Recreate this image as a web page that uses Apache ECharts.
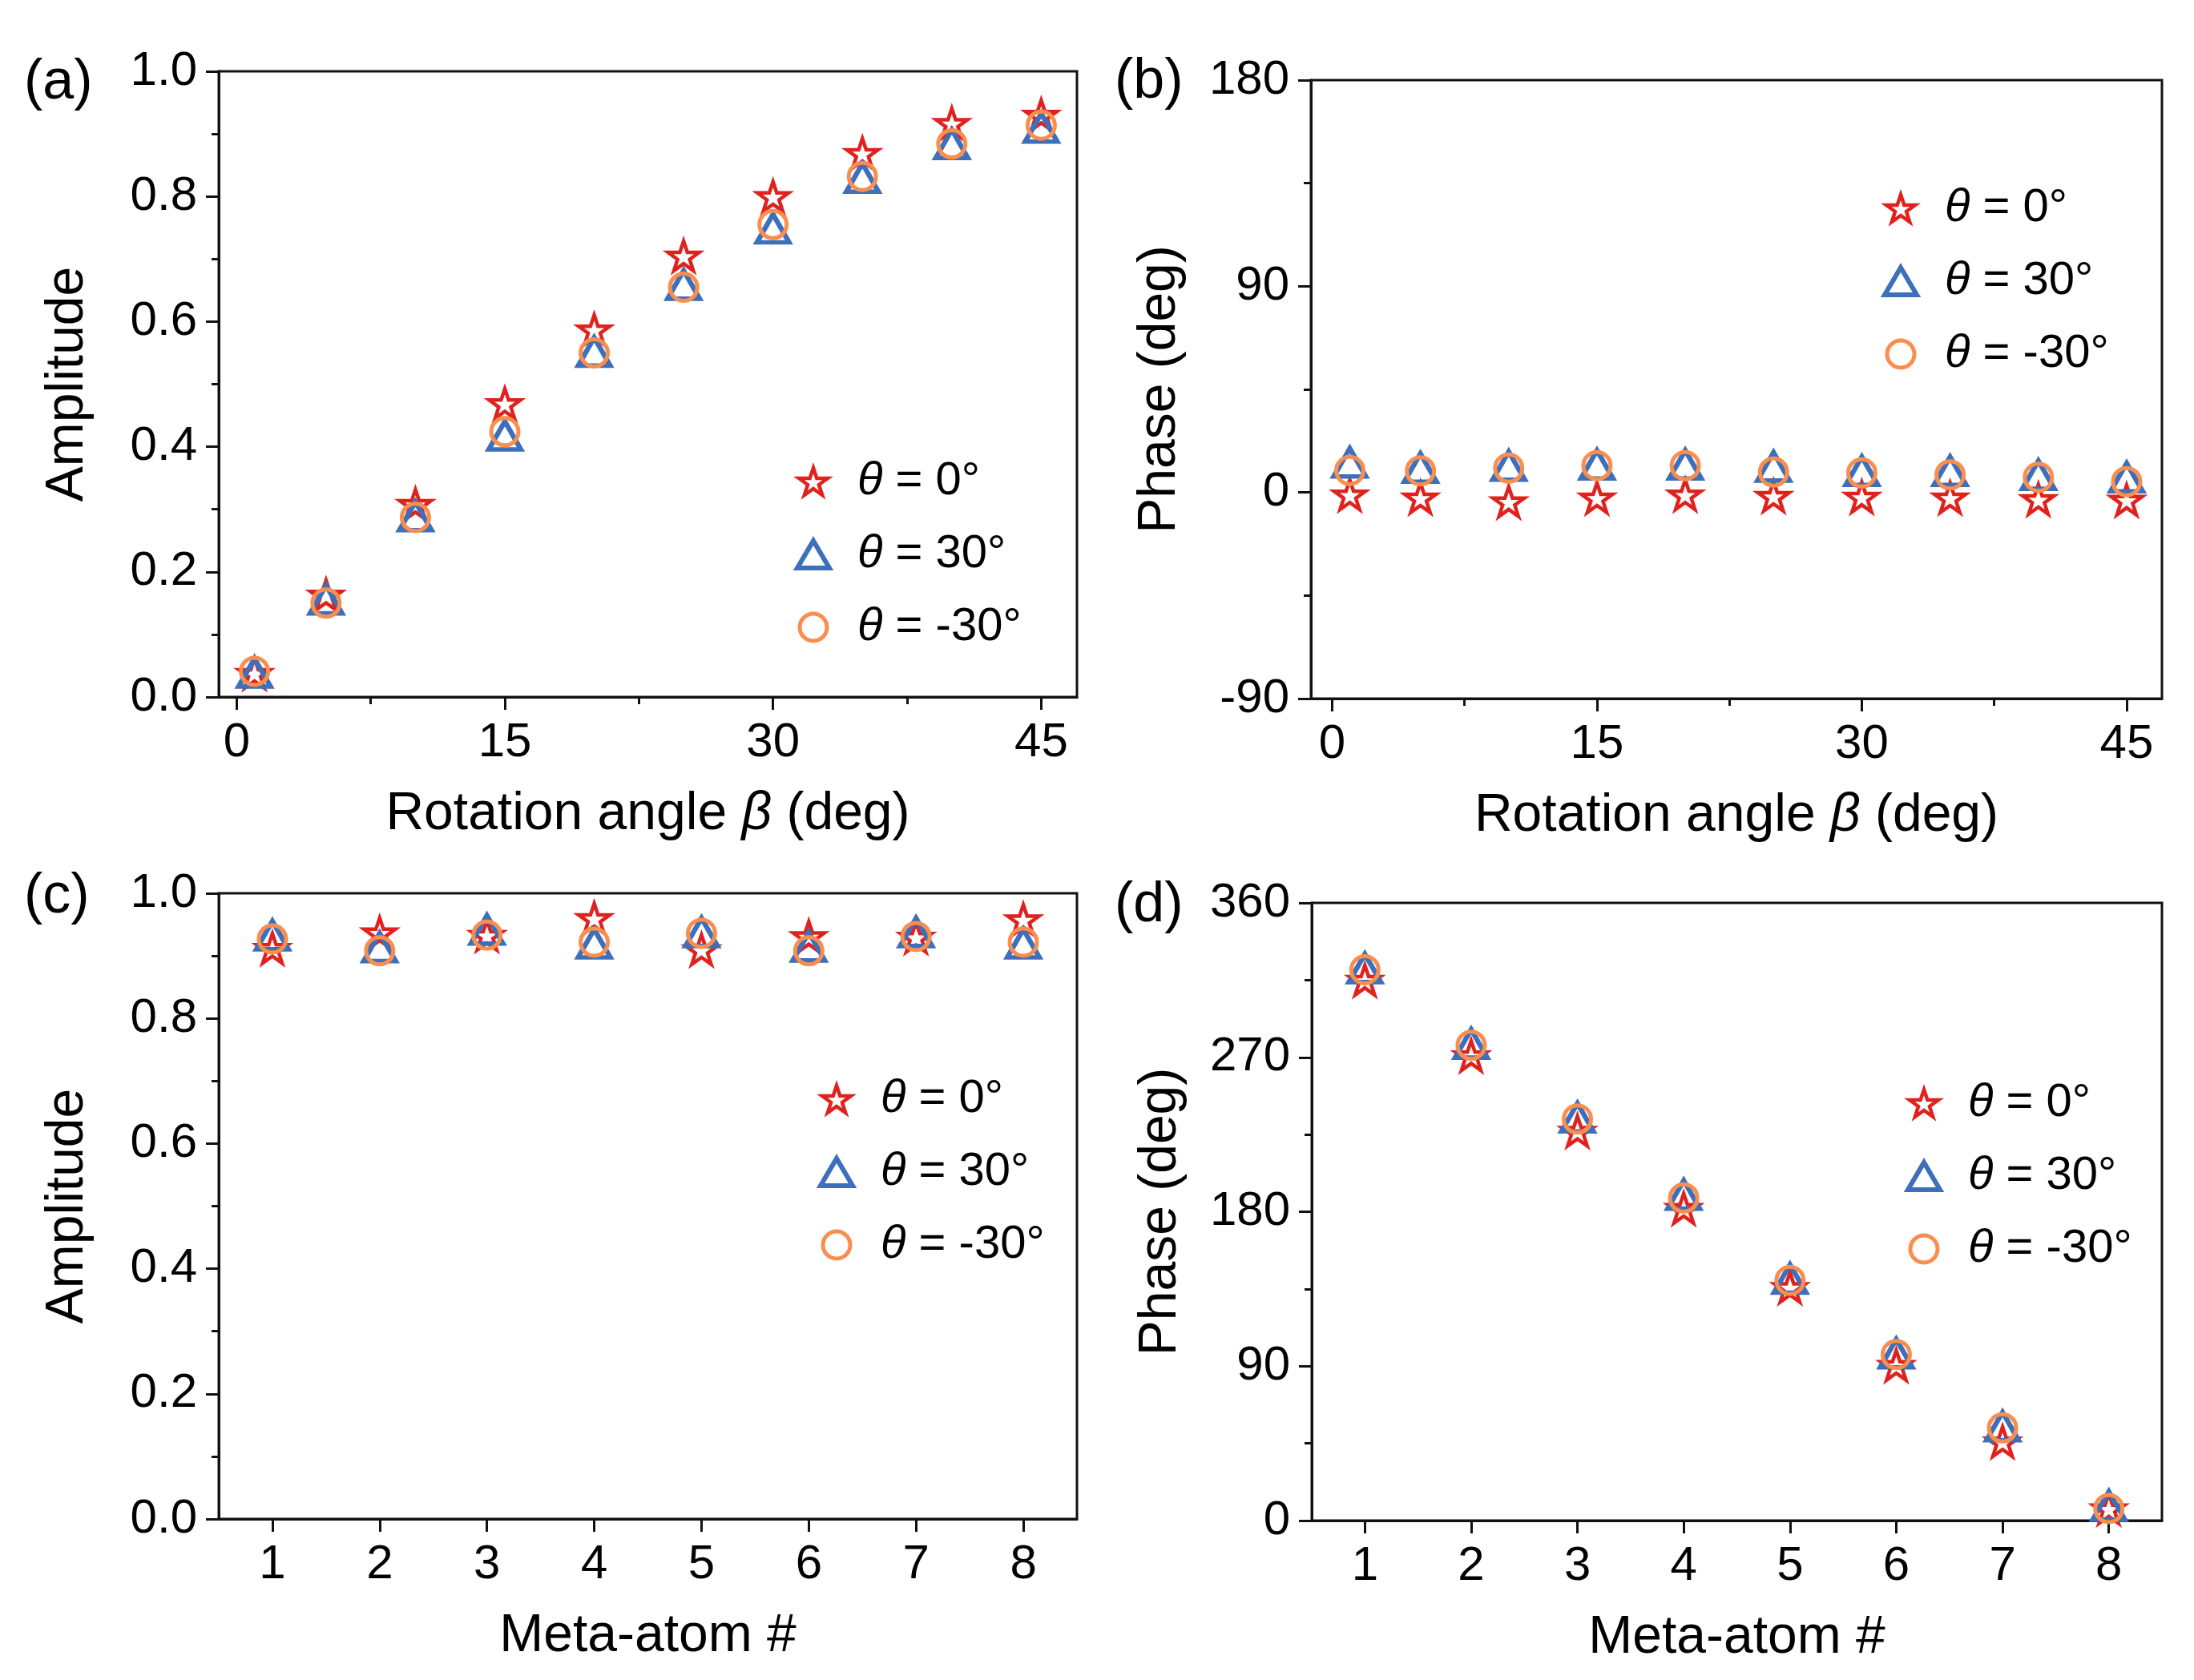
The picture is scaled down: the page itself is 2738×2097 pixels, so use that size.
<!DOCTYPE html>
<html>
<head>
<meta charset="utf-8">
<title>Amplitude and phase vs rotation angle</title>
<script src="https://cdn.jsdelivr.net/npm/echarts@6.0.0/dist/echarts.min.js"></script>
<style>
  html, body { margin: 0; padding: 0; background: #fff; }
  #main { width: 2738px; height: 2097px; }
</style>
</head>
<body>
<div id="main"></div>
<script>
// data
var betaAngles = [1, 5, 10, 15, 20, 25, 30, 35, 40, 45];
var betaTicks = [0, 15, 30, 45];
var betaMinorTicks = [7.5, 22.5, 37.5];
var ampA_0 = [0.038, 0.163, 0.308, 0.469, 0.587, 0.705, 0.800, 0.869, 0.917, 0.930];
var ampA_30 = [0.039, 0.156, 0.289, 0.418, 0.552, 0.659, 0.749, 0.830, 0.884, 0.910];
var ampA_m30 = [0.041, 0.150, 0.287, 0.424, 0.550, 0.655, 0.755, 0.832, 0.884, 0.914];

var phaseB_0 = [-1, -2.3, -4, -2.3, -1, -1.6, -2, -2.3, -3, -3.3];
var phaseB_30 = [13.1, 10.8, 11.7, 12.2, 12.2, 11.3, 9.4, 9.4, 7.7, 6.6];
var phaseB_m30 = [9.6, 9.4, 10.6, 11.7, 11.7, 8.9, 8.5, 7.7, 6.6, 4.7];

var metaAtoms = [1, 2, 3, 4, 5, 6, 7, 8];
var ampC_0 = [0.912, 0.937, 0.933, 0.960, 0.910, 0.931, 0.930, 0.958];
var ampC_30 = [0.933, 0.914, 0.942, 0.920, 0.938, 0.915, 0.938, 0.920];
var ampC_m30 = [0.927, 0.908, 0.933, 0.922, 0.936, 0.908, 0.931, 0.922];

var phaseD_0 = [315, 271, 227, 182, 136, 90.5, 46, 7];
var phaseD_30 = [322, 278, 235, 190, 141, 97.5, 55, 8.7];
var phaseD_m30 = [321, 277, 234, 188, 140, 96.8, 54, 7];

var seriesNames = ['θ = 0°', 'θ = 30°', 'θ = -30°'];

window.onload = function () {
    var myChart = echarts.init(document.getElementById('main'));

    var FONT = '"Liberation Sans", Arial, sans-serif';
    var RED = '#e0221e', BLUE = '#3d6fbb', ORANGE = '#f98e4e';
    var starPath = 'path://M50,0 L61.8,35.4 L99,35.4 L69,57.3 L80.4,92.7 L50,70.8 L19.6,92.7 L31,57.3 L1,35.4 L38.2,35.4 Z';
    var symbols = [starPath, 'triangle', 'circle'];
    var symbolSizes = [39, [40, 35], 34];
    var borderWidths = [4.5, 6, 5];
    var colors = [RED, BLUE, ORANGE];

    // 四个坐标区
    var grids = [
        { left: 273, top: 89, width: 1071, height: 781 },
        { left: 1636, top: 100, width: 1062, height: 772 },
        { left: 273, top: 1115, width: 1071, height: 781 },
        { left: 1637, top: 1127, width: 1061, height: 771 }
    ];
    grids.forEach(function (g) {
        g.show = true;
        g.borderColor = '#111';
        g.borderWidth = 3;
        g.backgroundColor = 'transparent';
    });

    var lineStyle = { color: '#111', width: 3 };

    function xAxisMain(gi, min, max, ticks, name) {
        return {
            type: 'value', gridIndex: gi, min: min, max: max,
            position: 'bottom',
            splitLine: { show: false },
            axisLine: { show: true, onZero: false, lineStyle: lineStyle },
            axisTick: { show: true, inside: false, length: 16, customValues: ticks, lineStyle: lineStyle },
            axisLabel: { show: true, customValues: ticks, margin: 27, fontSize: 60, color: '#000', fontFamily: FONT },
            name: name, nameLocation: 'middle', nameGap: 114,
            nameTextStyle: {
                fontSize: 66, color: '#000', fontFamily: FONT,
                rich: { i: { fontSize: 66, fontStyle: 'italic', color: '#000', fontFamily: FONT } }
            }
        };
    }
    // 次刻度
    function xAxisMinor(gi, min, max, ticks) {
        return {
            type: 'value', gridIndex: gi, min: min, max: max,
            position: 'bottom',
            splitLine: { show: false },
            axisLine: { show: false, onZero: false },
            axisTick: { show: true, inside: false, length: 9, customValues: ticks, lineStyle: lineStyle },
            axisLabel: { show: false }
        };
    }
    function yAxisMain(gi, min, max, interval, name, fmt) {
        return {
            type: 'value', gridIndex: gi, min: min, max: max, interval: interval,
            splitLine: { show: false },
            axisLine: { show: true, onZero: false, lineStyle: lineStyle },
            axisTick: { show: true, inside: false, length: 16, lineStyle: lineStyle },
            minorTick: { show: true, splitNumber: 2, length: 9, lineStyle: lineStyle },
            axisLabel: { margin: 27, fontSize: 60, color: '#000', fontFamily: FONT, formatter: fmt },
            name: name, nameLocation: 'middle', nameGap: 155,
            nameTextStyle: { fontSize: 66, color: '#000', fontFamily: FONT }
        };
    }
    var fmt1 = function (v) { return v.toFixed(1); };
    var fmt0 = function (v) { return String(v); };

    var xAxes = [
        xAxisMain(0, -1, 47, betaTicks, 'Rotation angle {i|β} (deg)'),
        xAxisMain(1, -1.2, 47, betaTicks, 'Rotation angle {i|β} (deg)'),
        xAxisMain(2, 0.5, 8.5, metaAtoms, 'Meta-atom #'),
        xAxisMain(3, 0.5, 8.5, metaAtoms, 'Meta-atom #'),
        xAxisMinor(0, -1, 47, betaMinorTicks),
        xAxisMinor(1, -1.2, 47, betaMinorTicks)
    ];
    var yAxes = [
        yAxisMain(0, 0, 1, 0.2, 'Amplitude', fmt1),
        yAxisMain(1, -90, 180, 90, 'Phase (deg)', fmt0),
        yAxisMain(2, 0, 1, 0.2, 'Amplitude', fmt1),
        yAxisMain(3, 0, 360, 90, 'Phase (deg)', fmt0)
    ];

    // 数据系列
    var panels = [
        { xs: betaAngles, ys: [ampA_0, ampA_30, ampA_m30] },
        { xs: betaAngles, ys: [phaseB_0, phaseB_30, phaseB_m30] },
        { xs: metaAtoms, ys: [ampC_0, ampC_30, ampC_m30] },
        { xs: metaAtoms, ys: [phaseD_0, phaseD_30, phaseD_m30] }
    ];
    var series = [];
    panels.forEach(function (p, pi) {
        p.ys.forEach(function (ys, si) {
            series.push({
                name: seriesNames[si],
                type: 'scatter',
                xAxisIndex: pi, yAxisIndex: pi,
                symbol: symbols[si],
                symbolSize: symbolSizes[si],
                symbolKeepAspect: true,
                itemStyle: { color: 'transparent', borderColor: colors[si], borderWidth: borderWidths[si], opacity: 1 },
                emphasis: { disabled: true },
                data: p.xs.map(function (x, i) { return [x, ys[i]]; })
            });
        });
    });

    // 图例
    var legendPos = [
        { left: 987, top: 567 },
        { left: 2344, top: 226 },
        { left: 1016, top: 1338 },
        { left: 2373, top: 1343 }
    ];
    var legends = legendPos.map(function (pos) {
        return {
            left: pos.left, top: pos.top, orient: 'vertical',
            itemWidth: 40, itemHeight: 34, itemGap: 33,
            selectedMode: false,
            data: seriesNames.map(function (n, si) {
                return {
                    name: n, icon: symbols[si],
                    itemStyle: { color: 'transparent', borderColor: colors[si], borderWidth: borderWidths[si] }
                };
            }),
            formatter: function (name) { return '{i|θ}' + name.slice(1); },
            textStyle: {
                fontSize: 58, color: '#000', fontFamily: FONT, padding: [0, 0, 0, 30],
                rich: { i: { fontSize: 58, fontStyle: 'italic', color: '#000', fontFamily: FONT } }
            }
        };
    });

    // 面板标签
    var labelPos = [[30, 69, '(a)'], [1391, 68, '(b)'], [30, 1085, '(c)'], [1391, 1096, '(d)']];
    var titles = labelPos.map(function (l) {
        return {
            text: l[2], left: l[0], top: l[1], padding: 0,
            textStyle: { fontSize: 70, fontWeight: 'normal', color: '#000', fontFamily: FONT }
        };
    });

    var option = {
        backgroundColor: '#fff',
        animation: false,
        title: titles,
        legend: legends,
        grid: grids,
        xAxis: xAxes,
        yAxis: yAxes,
        series: series
    };
    myChart.setOption(option);
};
</script>
</body>
</html>
